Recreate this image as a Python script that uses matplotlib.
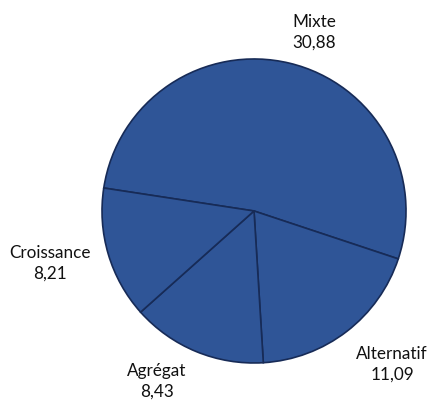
import matplotlib.pyplot as plt

categories = ["Mixte", "Alternatif", "Agrégat", "Croissance"]
values = [30.88, 11.09, 8.43, 8.21]

# label anchor points (data units, pie radius = 1)
label_pos = [(0.395, 1.178), (0.908, -1.007), (-0.638, -1.118), (-1.342, -0.342)]

plt.rcParams['font.family'] = ['Lato', 'DejaVu Sans']

fig = plt.figure(figsize=(4.33, 4.03), dpi=100)
ax = fig.add_axes([0.2356, 0.0993, 304 / 433, 304 / 403])

ax.pie(values, startangle=171.3, counterclock=False, radius=1,
       colors=['#2F5597'] * len(values),
       wedgeprops=dict(edgecolor='#172B57', linewidth=1.2))

for name, val, (x, y) in zip(categories, values, label_pos):
    txt = f"{name}\n{val:.2f}".replace('.', ',')
    ax.text(x, y, txt, ha='center', va='center', fontsize=12.3,
            color='#111111', linespacing=1.35)

ax.set_xlim(-1, 1)
ax.set_ylim(-1, 1)
ax.set_aspect('equal')
ax.axis('off')

fig.savefig("out.png", dpi=100)
plt.close()
